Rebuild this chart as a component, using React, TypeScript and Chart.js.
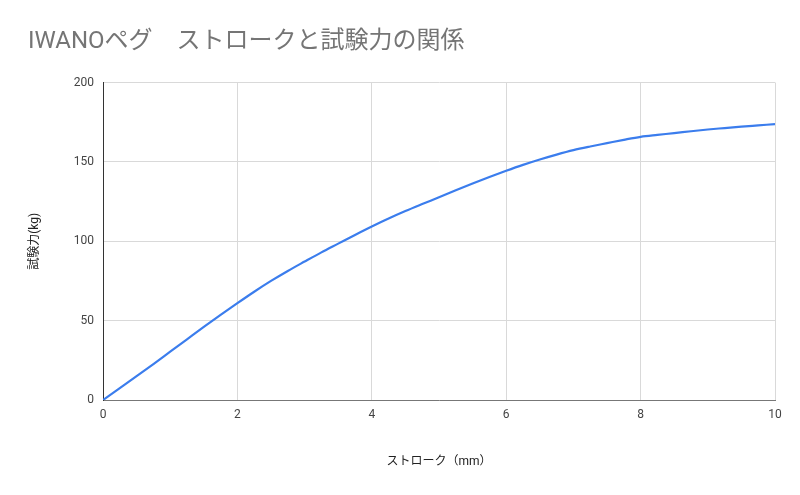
import React, { useEffect, useRef } from "react";
import { Chart, registerables } from "chart.js";

Chart.register(...registerables);

const chartTitle = "IWANOペグ　ストロークと試験力の関係";
const xAxisTitle = "ストローク（mm）";
const yAxisTitle = "試験力(kg)";

const strokeMm = [
  0, 0.25, 0.5, 0.75, 1.0, 1.25, 1.5, 1.75, 2.0, 2.25, 2.5, 2.75, 3.0, 3.25, 3.5, 3.75, 4.0,
  4.25, 4.5, 4.75, 5.0, 5.25, 5.5, 5.75, 6.0, 6.25, 6.5, 6.75, 7.0, 7.25, 7.5, 7.75, 8.0,
  8.25, 8.5, 8.75, 9.0, 9.25, 9.5, 9.75, 10.0,
];
const forceKg = [
  0, 7.5, 15, 22.6, 30.4, 38.2, 46, 53.6, 61, 68.2, 75, 81.3, 87.2, 93, 98.5, 104, 109.3,
  114.3, 119, 123.4, 127.7, 132.1, 136.4, 140.5, 144.4, 148.1, 151.5, 154.6, 157.4, 159.7, 161.8, 163.9, 165.8,
  167, 168.1, 169.3, 170.4, 171.3, 172.2, 173, 173.8,
];

const xTicks = [0, 2, 4, 6, 8, 10];
const yTicks = [0, 50, 100, 150, 200];

export default function App() {
  const ref = useRef<HTMLCanvasElement>(null);
  useEffect(() => {
    document.body.style.margin = "0";
    const canvas = ref.current!;
    const titlePlugin = {
      id: "sheetTitle",
      afterDraw(chart: any) {
        const ctx = chart.ctx;
        ctx.save();
        ctx.font = "24px Roboto, 'Noto Sans CJK JP', sans-serif";
        ctx.fillStyle = "#757575";
        ctx.textBaseline = "middle";
        ctx.textAlign = "left";
        ctx.fillText(chartTitle, 28, 42);
        ctx.restore();
      },
    };
    const chart = new Chart(canvas, {
      type: "line",
      data: {
        datasets: [
          {
            data: strokeMm.map((x, i) => ({ x, y: forceKg[i] })),
            borderColor: "#3b7ded",
            borderWidth: 2.2,
            pointRadius: 0,
            cubicInterpolationMode: "monotone",
            fill: false,
          },
        ],
      },
      options: {
        responsive: false,
        animation: false,
        layout: { padding: { left: 0, top: 82.5, right: 25, bottom: 0 } },
        plugins: { legend: { display: false }, tooltip: { enabled: false }, title: { display: false } },
        scales: {
          x: {
            type: "linear",
            min: 0,
            max: 10,
            afterFit: (s: any) => { s.height = 95; },
            afterBuildTicks: (s: any) => { s.ticks = xTicks.map((v) => ({ value: v })); },
            ticks: { color: "#444", font: { family: "Roboto, sans-serif", size: 12 }, padding: 8 },
            grid: { color: "#d9d9d9", drawTicks: false },
            border: { color: "#777" },
            title: {
              display: true,
              text: xAxisTitle,
              color: "#222",
              font: { family: "Roboto, 'Noto Sans CJK JP', sans-serif", size: 12 },
              padding: { top: 0, bottom: 25.8 },
            },
          },
          y: {
            type: "linear",
            min: 0,
            max: 200,
            afterFit: (s: any) => { s.width = 103; },
            afterBuildTicks: (s: any) => { s.ticks = yTicks.map((v) => ({ value: v })); },
            ticks: { color: "#444", font: { family: "Roboto, sans-serif", size: 12 }, padding: 9 },
            grid: { color: "#d9d9d9", drawTicks: false },
            border: { color: "#333" },
            title: {
              display: true,
              text: yAxisTitle,
              color: "#222",
              font: { family: "Roboto, 'Noto Sans CJK JP', sans-serif", size: 12 },
              padding: { top: 27.8, bottom: 0 },
            },
          },
        },
      },
      plugins: [titlePlugin],
    });
    return () => chart.destroy();
  }, []);
  return (
    <div style={{ width: 800, height: 495, background: "#fff" }}>
      <canvas ref={ref} width={800} height={495} style={{ display: "block" }} />
    </div>
  );
}
